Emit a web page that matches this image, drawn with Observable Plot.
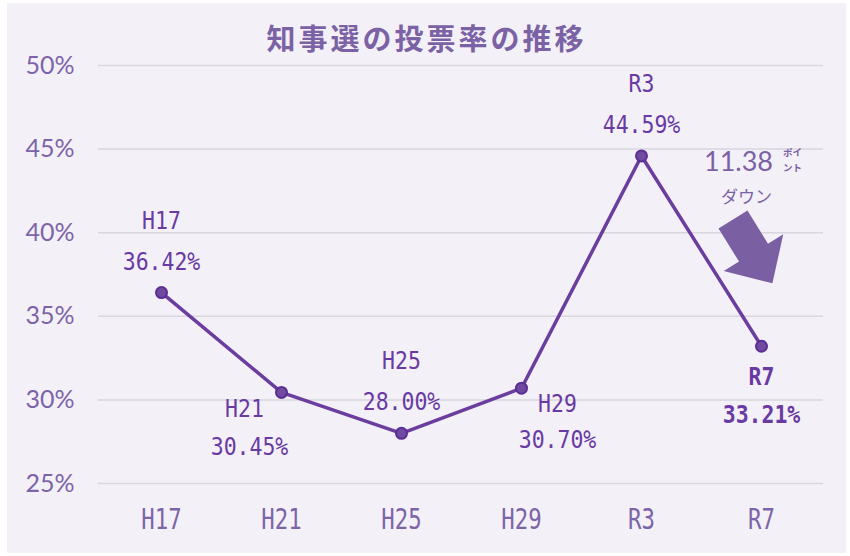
<!DOCTYPE html>
<html>
<head>
<meta charset="utf-8">
<script src="https://cdn.jsdelivr.net/npm/d3@7"></script>
<script src="https://cdn.jsdelivr.net/npm/@observablehq/plot@0.6"></script>
<style>
  html, body { margin: 0; padding: 0; background: #ffffff; }
  #card { position: absolute; left: 7px; top: 3px; width: 839px; height: 550px; background: #f3f1f7; overflow: hidden; }
  #title { height: 27px; padding-top: 20px; text-align: center; font-family: "Noto Sans CJK JP", sans-serif; font-weight: 700; font-size: 29px; line-height: 29px; letter-spacing: 3px; color: #7b62a5; }
</style>
</head>
<body>
<div id="card">
  <div id="title">知事選の投票率の推移</div>
  <div id="chart"></div>
</div>
<script>
// ---- data ----
const elections = ["H17", "H21", "H25", "H29", "R3", "R7"];
const turnout = [36.42, 30.45, 28.00, 30.70, 44.59, 33.21];
const yTicks = [25, 30, 35, 40, 45, 50];
const labelSides = ["above", "below-left", "above", "below-right", "above", "below"];
const dropUnit = ["ポイ", "ント"];
const dropWord = "ダウン";

const data = elections.map((name, i) => ({name, value: turnout[i], side: labelSides[i], last: i === elections.length - 1}));
const dropText = (turnout[4] - turnout[5]).toFixed(2);

const offsets = {
  "above":       {name: [0, -72], value: [0, -31]},
  "below-left":  {name: [-37, 17], value: [-32, 55]},
  "below-right": {name: [36, 16],  value: [36, 52]},
  "below":       {name: [0, 31],   value: [0, 69]}
};

const purple = "#6a3aa3";
const axisColor = "#7d63a8";
const monoFont = "DejaVu Sans Mono, Liberation Mono, monospace";

const labelMarks = [];
data.forEach((d, i) => {
  const o = offsets[d.side];
  labelMarks.push(Plot.text([d], {x: "name", y: "value", text: "name", dx: o.name[0], dy: o.name[1],
    fill: purple, fontSize: 25, fontFamily: monoFont, fontWeight: d.last ? "bold" : "normal"}));
  labelMarks.push(Plot.text([d], {x: "name", y: "value", text: v => v.value.toFixed(2) + "%", dx: o.value[0], dy: o.value[1],
    fill: purple, fontSize: 25, fontFamily: monoFont, fontWeight: d.last ? "bold" : "normal"}));
});

const blockArrow = {
  draw(ctx, l) {
    const sw = 17, hw = 35, hb = l - 36;
    ctx.moveTo(-sw, 0);
    ctx.lineTo(-sw, -hb);
    ctx.lineTo(-hw, -hb);
    ctx.lineTo(0, -l);
    ctx.lineTo(hw, -hb);
    ctx.lineTo(sw, -hb);
    ctx.lineTo(sw, 0);
    ctx.closePath();
  }
};

const ann = [{name: "R7"}];

const plot = Plot.plot({
  width: 839,
  height: 503,
  marginTop: 15,
  marginBottom: 70,
  marginLeft: 91,
  marginRight: 23,
  style: {background: "transparent", overflow: "visible"},
  x: {type: "point", domain: elections, padding: 0.5, label: null},
  y: {domain: [25, 50], label: null},
  marks: [
    Plot.gridY(yTicks, {stroke: "#d9d6de", strokeOpacity: 1, strokeWidth: 1.5}),
    Plot.axisY(yTicks, {tickSize: 0, tickPadding: 24, tickFormat: d => d + "%", fontSize: 25, fontFamily: "Lato, sans-serif", fill: axisColor, label: null}),
    Plot.axisX({tickSize: 0, tickPadding: 25, fontSize: 29, fontFamily: monoFont, fill: axisColor, label: null}),
    Plot.line(data, {x: "name", y: "value", stroke: "#6a3d9f", strokeWidth: 3.5}),
    Plot.dot(data, {x: "name", y: "value", r: 5.5, fill: "#6f4aa0", stroke: "#5c2d95", strokeWidth: 2}),
    ...labelMarks,
    Plot.vector(ann, {x: "name", y: () => 40.79, dx: -28.5, length: 75, rotate: 148.3, anchor: "start", shape: blockArrow, fill: "#7b5fa3", stroke: "none"}),
    Plot.text(ann, {x: "name", y: () => 44.2, dx: -23, text: () => dropText, fontSize: 27, fontFamily: "Lato, sans-serif", fill: "#7b62a5"}),
    Plot.text(ann, {x: "name", y: () => 44.74, dx: 31, text: () => dropUnit[0], fontSize: 9.5, fontWeight: "bold", fontFamily: "Noto Sans CJK JP, sans-serif", fill: "#7b62a5"}),
    Plot.text(ann, {x: "name", y: () => 43.86, dx: 31, text: () => dropUnit[1], fontSize: 9.5, fontWeight: "bold", fontFamily: "Noto Sans CJK JP, sans-serif", fill: "#7b62a5"}),
    Plot.text(ann, {x: "name", y: () => 42.1, dx: -15, text: () => dropWord, fontSize: 17, fontFamily: "Noto Sans CJK JP, sans-serif", fill: "#7b62a5", style: "letter-spacing:2px"})
  ]
});

document.getElementById("chart").appendChild(plot);

// condense the narrow label glyphs
function squeeze(sel, k) {
  sel.each(function() {
    const t = this.getAttribute("transform") || "";
    this.setAttribute("transform", t + ` scale(${k},1)`);
  });
}
const svg = d3.select(plot);
squeeze(svg.selectAll("text").filter(function() { const g = this.closest("[fill]"); return g && g.getAttribute("fill") === purple; }), 0.86);
squeeze(svg.selectAll("text").filter(function() { const g = this.closest("[aria-label]"); return g && /^x-axis/.test(g.getAttribute("aria-label")); }), 0.77);
</script>
</body>
</html>
